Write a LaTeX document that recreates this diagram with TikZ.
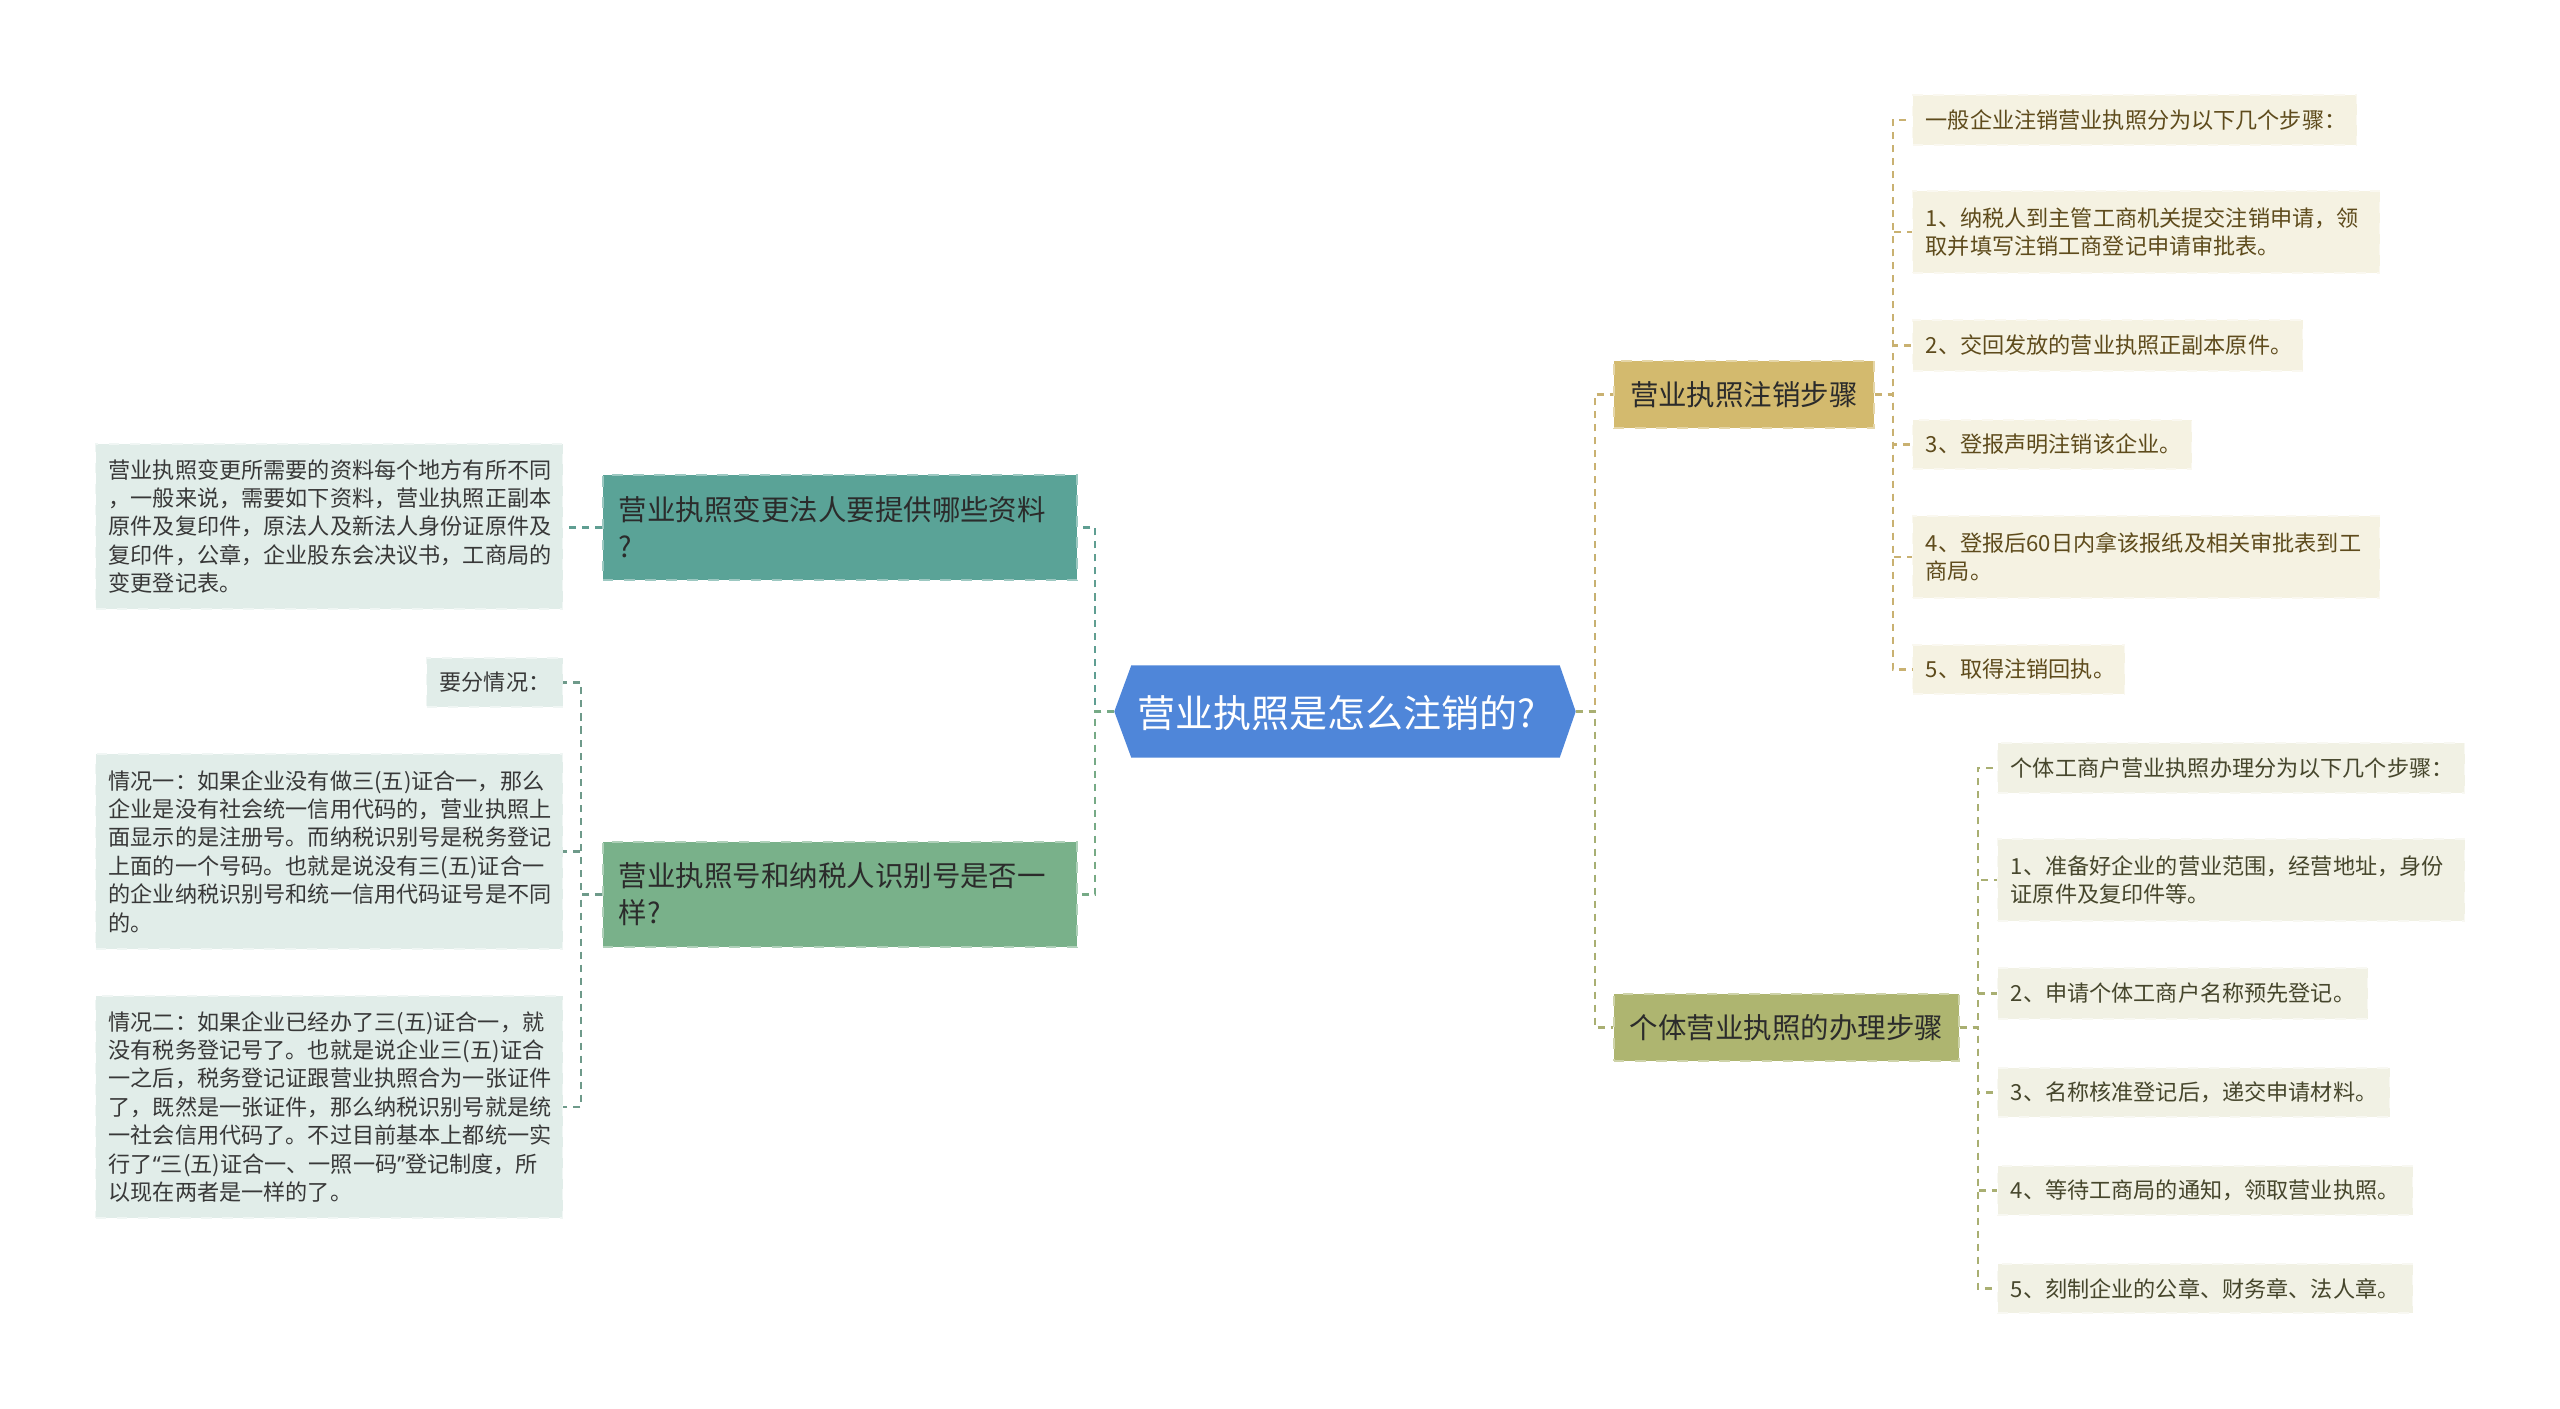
\documentclass[tikz,border=0pt]{standalone}
\usepackage{fontspec}
\setmainfont{Noto Sans CJK SC}
\newfontfamily\latinq{Noto Sans}
\usetikzlibrary{calc,backgrounds}

\definecolor{rootblue}{HTML}{4F86D9}
\definecolor{tealbox}{HTML}{5AA397}
\definecolor{greenbox}{HTML}{79B18A}
\definecolor{tanbox}{HTML}{D3BA6E}
\definecolor{olivebox}{HTML}{AEB570}
\definecolor{leafgrey}{HTML}{E1EDE9}
\definecolor{leafbeige}{HTML}{F5F2E2}
\definecolor{leafolive}{HTML}{F1F1E4}
\definecolor{txtdark}{HTML}{2B2B2B}
\definecolor{txtgrey}{HTML}{383838}
\definecolor{txtbrown}{HTML}{5E4B1C}
\definecolor{txtolive}{HTML}{46462C}
\definecolor{lteal}{HTML}{5F9E92}
\definecolor{lgreen}{HTML}{76AA86}
\definecolor{lgrey}{HTML}{6E9A8A}
\definecolor{ltan}{HTML}{C9B171}
\definecolor{lolive}{HTML}{A9AF72}

\begin{document}
\begin{tikzpicture}[
  root/.style={minimum width=4.6cm, minimum height=0.91cm, inner sep=0pt,
    text=white, font=\fontsize{10.8}{13}\selectfont},
  topic/.style={anchor=west, inner xsep=0.16cm, inner ysep=0pt, dashed,
    line width=0.5pt, text=txtdark, font=\fontsize{8.1}{10.5}\selectfont},
  leaf/.style={anchor=west, align=left, inner xsep=0.13cm, inner ysep=0pt,
    dashed, line width=0.4pt, font=\fontsize{6.3}{8.1}\selectfont},
  leafL/.style={leaf, fill=leafgrey, draw=leafgrey!50!white, text=txtgrey},
  leafR/.style={leaf, fill=leafbeige, draw=leafbeige!50!white, text=txtbrown},
  leafS/.style={leaf, fill=leafolive, draw=leafolive!50!white, text=txtolive},
  lnk/.style={line width=0.65pt, dash pattern=on 0.07cm off 0.06cm},
]
  \useasboundingbox (0,0) rectangle (25.6,-14.09);

  % midten
  \node[root, text depth=0pt] (root) at (13.45,-7.115) {\hspace*{-0.17cm}营业执照是怎么注销的?};
  \begin{scope}[on background layer]
    \fill[rootblue] (root.west) -- ($(root.north west)+(0.17,0)$)
      -- ($(root.north east)+(-0.16,0)$) -- (root.east)
      -- ($(root.south east)+(-0.16,0)$) -- ($(root.south west)+(0.17,0)$) -- cycle;
  \end{scope}

  % venstre side
  \node[topic, fill=tealbox, draw=tealbox!60!white, text width=4.42cm, align=left,
    minimum height=1.05cm] (a1) at (6.02,-5.275) {营业执照变更法人要提供哪些资料\\?};
  \node[topic, fill=greenbox, draw=greenbox!60!white, text width=4.42cm, align=left,
    minimum height=1.05cm] (a2) at (6.02,-8.945) {营业执照号和纳税人识别号是否一\\样?};

  \node[leafL, text width=4.41cm, minimum height=1.65cm] (l1) at (0.95,-5.265)
    {营业执照变更所需要的资料每个地方有所不同\\，一般来说，需要如下资料，营业执照正副本\\原件及复印件，原法人及新法人身份证原件及\\复印件，公章，企业股东会决议书，工商局的\\变更登记表。};
  \node[leafL, text width=1.10cm, minimum height=0.49cm] (l2) at (4.26,-6.825) {要分情况：};
  \node[leafL, text width=4.41cm, minimum height=1.95cm] (l3) at (0.95,-8.515)
    {情况一：如果企业没有做三(五)证合一，那么\\企业是没有社会统一信用代码的，营业执照上\\面显示的是注册号。而纳税识别号是税务登记\\上面的一个号码。也就是说没有三(五)证合一\\的企业纳税识别号和统一信用代码证号是不同\\的。};
  \node[leafL, text width=4.41cm, minimum height=2.22cm] (l4) at (0.95,-11.07)
    {情况二：如果企业已经办了三(五)证合一，就\\没有税务登记号了。也就是说企业三(五)证合\\一之后，税务登记证跟营业执照合为一张证件\\了，既然是一张证件，那么纳税识别号就是统\\一社会信用代码了。不过目前基本上都统一实\\行了{\latinq “}三(五)证合一、一照一码{\latinq ”}登记制度，所\\以现在两者是一样的了。};

  % højre side
  \node[topic, fill=tanbox, draw=tanbox!60!white, minimum width=2.60cm,
    minimum height=0.67cm] (b1) at (16.13,-3.945) {营业执照注销步骤};
  \node[topic, fill=olivebox, draw=olivebox!60!white, minimum width=3.45cm,
    minimum height=0.67cm] (b2) at (16.13,-10.275) {个体营业执照的办理步骤};

  \node[leafR, text width=4.18cm, minimum height=0.50cm] (r1) at (19.12,-1.20) {一般企业注销营业执照分为以下几个步骤：};
  \node[leafR, text width=4.41cm, minimum height=0.82cm] (r2) at (19.12,-2.32) {1、纳税人到主管工商机关提交注销申请，领\\取并填写注销工商登记申请审批表。};
  \node[leafR, text width=3.64cm, minimum height=0.51cm] (r3) at (19.12,-3.455) {2、交回发放的营业执照正副本原件。};
  \node[leafR, text width=2.53cm, minimum height=0.49cm] (r4) at (19.12,-4.445) {3、登报声明注销该企业。};
  \node[leafR, text width=4.41cm, minimum height=0.82cm] (r5) at (19.12,-5.57) {4、登报后60日内拿该报纸及相关审批表到工\\商局。};
  \node[leafR, text width=1.86cm, minimum height=0.49cm] (r6) at (19.12,-6.695) {5、取得注销回执。};

  \node[leafS, text width=4.41cm, minimum height=0.50cm] (s1) at (19.97,-7.68) {个体工商户营业执照办理分为以下几个步骤：};
  \node[leafS, text width=4.41cm, minimum height=0.82cm] (s2) at (19.97,-8.80) {1、准备好企业的营业范围，经营地址，身份\\证原件及复印件等。};
  \node[leafS, text width=3.44cm, minimum height=0.51cm] (s3) at (19.97,-9.935) {2、申请个体工商户名称预先登记。};
  \node[leafS, text width=3.66cm, minimum height=0.49cm] (s4) at (19.97,-10.925) {3、名称核准登记后，递交申请材料。};
  \node[leafS, text width=3.89cm, minimum height=0.49cm] (s5) at (19.97,-11.905) {4、等待工商局的通知，领取营业执照。};
  \node[leafS, text width=3.89cm, minimum height=0.49cm] (s6) at (19.97,-12.885) {5、刻制企业的公章、财务章、法人章。};

  % forbindelser
  \draw[lnk, lteal] (root.west) -- ++(-0.19,0) |- (a1.east);
  \draw[lnk, lgreen] (root.west) -- ++(-0.19,0) |- (a2.east);
  \draw[lnk, lteal] (a1.west) -- (a1.west -| l1.east);
  \foreach \n in {2,3,4}
    \draw[lnk, lgrey] (a2.west) -- ++(-0.21,0) |- (l\n.east);

  \draw[lnk, ltan] (root.east) -- ++(0.19,0) |- (b1.west);
  \draw[lnk, lolive] (root.east) -- ++(0.19,0) |- (b2.west);
  \foreach \n in {1,...,6}
    \draw[lnk, ltan] (b1.east) -- ++(0.18,0) |- (r\n.west);
  \foreach \n in {1,...,6}
    \draw[lnk, lolive] (b2.east) -- ++(0.18,0) |- (s\n.west);
\end{tikzpicture}
\end{document}
